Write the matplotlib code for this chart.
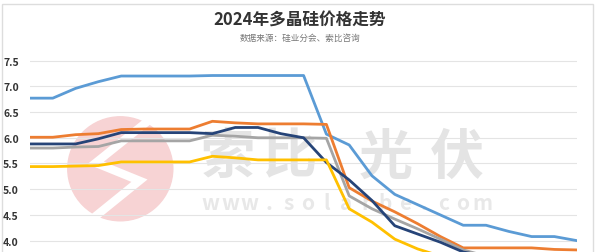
import matplotlib.pyplot as plt
from matplotlib.patches import Ellipse, Rectangle

plt.rcParams['font.family'] = ['Noto Sans CJK SC', 'DejaVu Sans']

# weekly points, 25 in total
weeks = list(range(25))

light_blue = [6.77, 6.77, 6.96, 7.09, 7.2, 7.2, 7.2, 7.2, 7.21, 7.21, 7.21, 7.21, 7.21,
              6.07, 5.86, 5.26, 4.9, 4.7, 4.5, 4.3, 4.3, 4.18, 4.08, 4.08, 4.0]
orange = [6.01, 6.01, 6.06, 6.08, 6.16, 6.17, 6.17, 6.17, 6.32, 6.29, 6.27, 6.27, 6.27,
          6.26, 5.03, 4.77, 4.56, 4.33, 4.08, 3.86, 3.86, 3.86, 3.86, 3.83, 3.82]
gray = [5.8, 5.8, 5.82, 5.83, 5.94, 5.94, 5.94, 5.94, 6.05, 6.03, 6.0, 6.0, 6.0,
        5.99, 4.87, 4.62, 4.42, 4.23, 4.03, 3.82, 3.7, 3.7, 3.7, 3.7, 3.7]
navy = [5.88, 5.88, 5.88, 5.98, 6.1, 6.1, 6.1, 6.1, 6.08, 6.2, 6.2, 6.08, 6.0,
        5.52, 5.18, 4.78, 4.29, 4.13, 3.97, 3.78, 3.7, 3.7, 3.7, 3.7, 3.7]
yellow = [5.44, 5.44, 5.45, 5.46, 5.53, 5.53, 5.53, 5.53, 5.64, 5.61, 5.57, 5.57, 5.57,
          5.57, 4.62, 4.36, 4.03, 3.84, 3.7, 3.7, 3.7, 3.7, 3.7, 3.7, 3.7]

series = [
    (light_blue, '#5b9bd5'),
    (orange, '#ed7d31'),
    (gray, '#a5a5a5'),
    (navy, '#264478'),
    (yellow, '#ffc000'),
]
yticks = [4.0, 4.5, 5.0, 5.5, 6.0, 6.5, 7.0, 7.5]

fig = plt.figure(figsize=(6, 2.53), dpi=100)
fig.patch.set_facecolor('white')

# light frame round the whole chart
fig.patches.append(Rectangle((0.004, -0.01), 0.984, 0.99, transform=fig.transFigure,
                             fill=False, edgecolor='#dddddd', lw=1))

fig.text(0.5, 0.92, '2024年多晶硅价格走势', ha='center', va='center',
         fontsize=12, fontweight='bold', color='#333333')
fig.text(0.5, 0.85, '数据来源：硅业分会、索比咨询', ha='center', va='center',
         fontsize=6.2, color='#777777')

ax = fig.add_axes([0.05, 0.0, 0.912, 0.783])
ax.set_xlim(0, 24)
ax.set_ylim(3.78, 7.63)

# watermark: logo circle with a white stroke, big grey name, site address
ax.add_patch(Ellipse((0.165, 0.42), 0.192, 0.525, transform=ax.transAxes,
                     color='#f7d3d4', zorder=0))
ax.plot([0.215, 0.12, 0.2, 0.115], [0.66, 0.45, 0.36, 0.17], transform=ax.transAxes,
        color='white', lw=6, solid_joinstyle='miter', zorder=0)
for ch, xp in zip('索比光伏', [0.362, 0.475, 0.651, 0.781]):
    ax.text(xp, 0.48, ch, transform=ax.transAxes, ha='center', va='center',
            fontsize=39, fontweight='bold', color='#e4e4e4', zorder=0)
site = 'www.solarbe.com'
for k, ch in enumerate(site):
    ax.text(0.33 + k * 0.0355, 0.25, ch, transform=ax.transAxes, ha='center',
            va='center', fontsize=15, fontweight='bold', color='#e8e8e8', zorder=0)

for values, color in series:
    ax.plot(weeks, values, color=color, lw=2, zorder=3)

ax.set_yticks(yticks)
ax.set_yticklabels([f'{v:.1f}' for v in yticks])
ax.tick_params(axis='y', length=0, labelsize=7.5, labelcolor='#333333', pad=8)
ax.tick_params(axis='x', length=0, labelbottom=False)
for lbl in ax.get_yticklabels():
    lbl.set_fontweight('bold')
ax.grid(axis='y', color='#e4e4e4', lw=0.8, zorder=1)
for s in ax.spines.values():
    s.set_visible(False)

fig.savefig('out.png', dpi=100)
